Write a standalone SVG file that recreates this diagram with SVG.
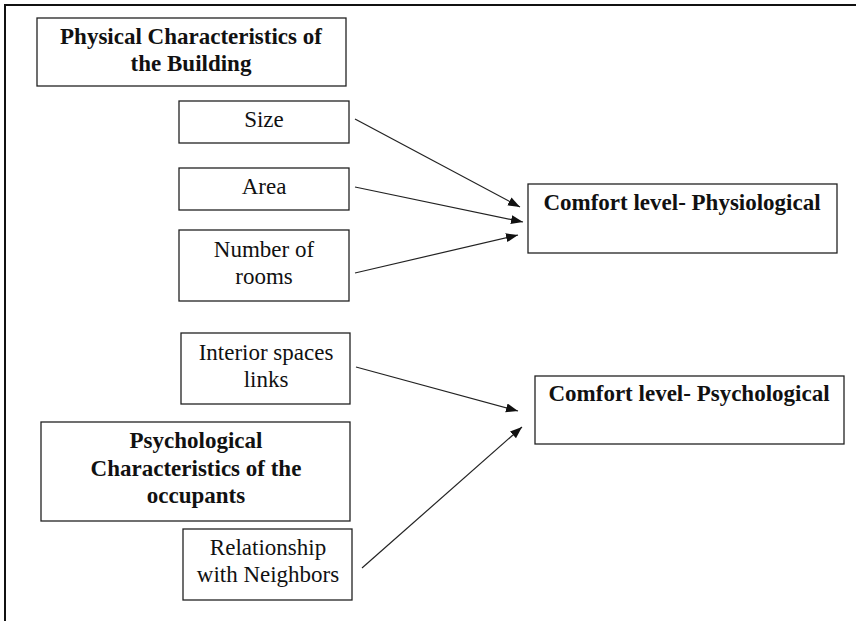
<svg xmlns="http://www.w3.org/2000/svg" width="856" height="621" viewBox="0 0 856 621">
<style>
.box{fill:#fff;stroke:#222;stroke-width:1.3}
.t{font-family:"Liberation Serif","Times New Roman",serif;font-size:23px;fill:#111;text-anchor:middle}
.b{font-weight:bold}
.c{stroke:#222;stroke-width:1.2;fill:none;marker-end:url(#ah)}
</style>
<defs>
<marker id="ah" markerUnits="userSpaceOnUse" markerWidth="13" markerHeight="10" refX="12" refY="4.5" orient="auto">
<path d="M0,0 L12,4.5 L0,9 Z" fill="#111"/>
</marker>
</defs>
<rect width="856" height="621" fill="#fff"/>
<path d="M5,621 V5 H856" fill="none" stroke="#111" stroke-width="2"/>
<g id="physical">
<rect class="box" x="37" y="18" width="309" height="68"/>
<text class="t b" x="191" y="44">Physical Characteristics of</text>
<text class="t b" x="191" y="71">the Building</text>
</g>
<g id="size">
<rect class="box" x="179" y="101" width="170" height="42"/>
<text class="t" x="264" y="127">Size</text>
</g>
<g id="area">
<rect class="box" x="179" y="168" width="170" height="42"/>
<text class="t" x="264" y="194">Area</text>
</g>
<g id="rooms">
<rect class="box" x="179" y="230" width="170" height="71"/>
<text class="t" x="264" y="257">Number of</text>
<text class="t" x="264" y="284">rooms</text>
</g>
<g id="interior">
<rect class="box" x="181" y="333" width="169" height="71"/>
<text class="t" x="266" y="360">Interior spaces</text>
<text class="t" x="266" y="387">links</text>
</g>
<g id="psychchar">
<rect class="box" x="41" y="422" width="309" height="99"/>
<text class="t b" x="196" y="448">Psychological</text>
<text class="t b" x="196" y="476">Characteristics of the</text>
<text class="t b" x="196" y="503">occupants</text>
</g>
<g id="relationship">
<rect class="box" x="183" y="529" width="169" height="71"/>
<text class="t" x="268" y="555">Relationship</text>
<text class="t" x="268" y="582">with Neighbors</text>
</g>
<g id="physiological">
<rect class="box" x="528" y="184" width="309" height="69"/>
<text class="t b" x="682" y="210">Comfort level- Physiological</text>
</g>
<g id="psychological">
<rect class="box" x="535" y="376" width="309" height="68"/>
<text class="t b" x="689" y="401">Comfort level- Psychological</text>
</g>
<g id="connectors">
<line class="c" x1="355" y1="119" x2="520" y2="207"/>
<line class="c" x1="355" y1="187" x2="523" y2="222"/>
<line class="c" x1="355" y1="273" x2="518" y2="235"/>
<line class="c" x1="356" y1="367" x2="518" y2="411"/>
<line class="c" x1="362" y1="568" x2="522" y2="427"/>
</g>
</svg>
